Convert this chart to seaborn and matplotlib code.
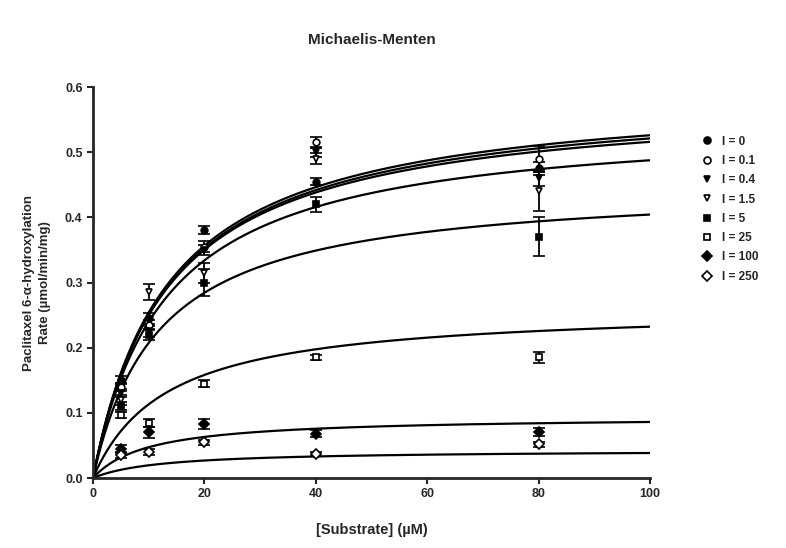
import numpy as np
import pandas as pd
import matplotlib
matplotlib.use("Agg")
import matplotlib.pyplot as plt
from matplotlib.lines import Line2D
import seaborn as sns

# Substrate concentrations (uM) at which rates were measured
substrate = [5, 10, 20, 40, 80]

# Inhibitor levels
inhibitor = ["0", "0.1", "0.4", "1.5", "5", "25", "100", "250"]

# Measured rates (umol/min/mg), one list per inhibitor level
rate_i0 = [0.150, 0.245, 0.380, 0.455, 0.475]
rate_i01 = [0.140, 0.235, 0.355, 0.515, 0.490]
rate_i04 = [0.130, 0.225, 0.350, 0.500, 0.460]
rate_i15 = [0.120, 0.285, 0.315, 0.490, 0.440]
rate_i5 = [0.110, 0.220, 0.300, 0.420, 0.370]
rate_i25 = [0.097, 0.085, 0.145, 0.185, 0.185]
rate_i100 = [0.045, 0.070, 0.083, 0.068, 0.070]
rate_i250 = [0.035, 0.040, 0.055, 0.037, 0.052]

# Standard errors
err_i0 = [0.006, 0.008, 0.006, 0.006, 0.010]
err_i01 = [0.006, 0.008, 0.008, 0.008, 0.020]
err_i04 = [0.006, 0.008, 0.008, 0.008, 0.012]
err_i15 = [0.008, 0.012, 0.015, 0.008, 0.030]
err_i5 = [0.006, 0.008, 0.020, 0.012, 0.030]
err_i25 = [0.005, 0.006, 0.005, 0.004, 0.008]
err_i100 = [0.005, 0.008, 0.008, 0.005, 0.006]
err_i250 = [0.004, 0.004, 0.004, 0.003, 0.004]

# Fitted Michaelis-Menten parameters per inhibitor level
vmax = [0.597, 0.592, 0.585, 0.551, 0.452, 0.263, 0.0946, 0.043]
km = [13.5, 13.6, 13.4, 13.0, 11.8, 13.25, 10.0, 12.0]

rates = [rate_i0, rate_i01, rate_i04, rate_i15, rate_i5, rate_i25, rate_i100, rate_i250]
errs = [err_i0, err_i01, err_i04, err_i15, err_i5, err_i25, err_i100, err_i250]

markers = ["o", "o", "v", "v", "s", "s", "D", "D"]
filled = [True, False, True, False, True, False, True, False]

sns.set_style("ticks")
plt.rcParams["font.family"] = ["Liberation Sans", "DejaVu Sans"]
plt.rcParams["font.weight"] = "bold"

fig = plt.figure(figsize=(7.86, 5.48), dpi=100)
ax = fig.add_axes([0.1183, 0.1277, 0.7087, 0.7135])

# Fitted curves
s_grid = np.linspace(0, 100, 400)
curve_rows = []
for lvl, vm, k in zip(inhibitor, vmax, km):
    for s in s_grid:
        curve_rows.append({"S": s, "v": vm * s / (k + s), "I": lvl})
curves = pd.DataFrame(curve_rows)
sns.lineplot(data=curves, x="S", y="v", units="I", estimator=None,
             color="black", lw=1.6, ax=ax, legend=False)

# Measured points with error bars
handles = []
for lvl, r, e, m, f in zip(inhibitor, rates, errs, markers, filled):
    face = "black" if f else "white"
    ax.errorbar(substrate, r, yerr=e, fmt=m, ms=4.8, mfc=face, mec="black",
                mew=1.2, ecolor="black", elinewidth=1.3, capsize=4.5,
                capthick=1.3, zorder=3)
    handles.append(Line2D([], [], ls="none", marker=m, ms=5, mfc=face,
                          mec="black", mew=1.2, label=f"I = {lvl}"))

ax.set_xlim(0, 100)
ax.set_ylim(0, 0.6)
ax.set_xticks([0, 20, 40, 60, 80, 100])
ax.set_yticks([0.0, 0.1, 0.2, 0.3, 0.4, 0.5, 0.6])
ax.set_yticklabels(["0.0", "0.1", "0.2", "0.3", "0.4", "0.5", "0.6"])
ax.tick_params(axis="both", labelsize=9, width=1.5, length=4, direction="out")
for lab in ax.get_xticklabels() + ax.get_yticklabels():
    lab.set_fontweight("bold")
for sp in ["left", "bottom"]:
    ax.spines[sp].set_linewidth(2)
sns.despine(ax=ax)

ax.set_xlabel("[Substrate] (\u00b5M)", fontsize=10.5, fontweight="bold", labelpad=16)
ax.set_ylabel("Paclitaxel 6-\u03b1-hydroxylation\nRate (\u00b5mol/min/mg)",
              fontsize=9.5, fontweight="bold", labelpad=10, linespacing=1.45)
fig.suptitle("Michaelis-Menten", x=0.473, y=0.94, fontsize=11, fontweight="bold")

fig.legend(handles=handles, loc="upper left", bbox_to_anchor=(0.879, 0.772),
           frameon=False, handletextpad=0.7, labelspacing=0.62,
           handlelength=1.0, prop={"weight": "bold", "size": 8.5})

fig.savefig("out.png", dpi=100)
